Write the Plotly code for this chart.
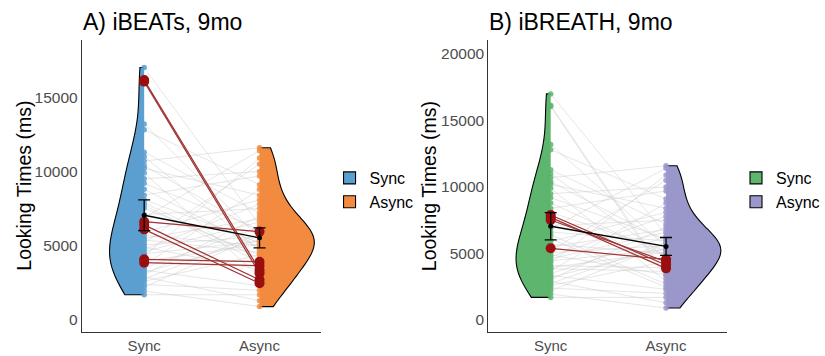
import plotly.graph_objects as go

# ---------------- data ----------------
conditions = ["Sync", "Async"]
sync_ms = [17000, 16150, 16050, 13200, 12800, 11300, 11000, 10700, 10400, 10200,
           9900, 9500, 9200, 8800, 8400, 8100, 7895, 7720, 7520, 7100,
           6900, 6615, 6400, 6100, 5900, 5700, 5500, 5390, 5200, 5050,
           4900, 4750, 4600, 4450, 4300, 4085, 3950, 3860, 3700, 3500,
           3350, 3200, 3050, 2900, 2750, 2600, 2400, 2200, 1950, 1700]
async_ms = [6400, 3365, 3140, 5500, 9100, 7200, 4700, 11600, 5900, 8400,
            2900, 10000, 6100, 4850, 9700, 5200, 4135, 3885, 4385, 7500,
            11400, 5950, 2700, 2470, 8100, 5000, 6800, 4560, 10500, 5600,
            3400, 7800, 6600, 5300, 10900, 3925, 5100, 3655, 8800, 6250,
            2300, 5400, 7000, 1300, 5800, 4400, 2000, 5700, 900, 1700]
highlight_A = [1, 2, 21, 22, 23, 35, 37]
highlight_B = [16, 17, 18, 27]
mean_ms = [7050, 5530]
se_ms = [1030, 675]
ticks_A = [0, 5000, 10000, 15000]
ticks_B = [0, 5000, 10000, 15000, 20000]
y_title = "Looking Times (ms)"

panels = [
    dict(title="A) iBEATs, 9mo", colors=["#5B9FD0", "#F28B3F"], hl=highlight_A,
         yticks=ticks_A, yrange=[-810, 18850]),
    dict(title="B) iBREATH, 9mo", colors=["#5DB56E", "#9A97CB"], hl=highlight_B,
         yticks=ticks_B, yrange=[-900, 21050]),
]

W, H = 825, 356
xdom = [[83 / W, 325 / W], [495 / W, 737 / W]]
ydom = [1 - 332 / H, 1 - 40 / H]
ytitle_x = [24 / W, 435 / W]

fig = go.Figure()
for p, panel in enumerate(panels):
    xa = "x" if p == 0 else "x2"
    ya = "y" if p == 0 else "y2"
    lg = "legend" if p == 0 else "legend2"
    c_sync, c_async = panel["colors"]
    # violins
    for i, (vals, col, side, wd) in enumerate([(sync_ms, c_sync, "negative", 0.6),
                                                (async_ms, c_async, "positive", 0.95)]):
        fig.add_trace(go.Violin(
            x=[i] * len(vals), y=vals, name=conditions[i], side=side,
            fillcolor=col, line=dict(color="black", width=1.1), opacity=1,
            points=False, spanmode="hard", width=wd, scalemode="width",
            box_visible=False, meanline_visible=False, hoverinfo="skip",
            xaxis=xa, yaxis=ya, legend=lg, showlegend=True))
    # gray paired lines
    lx, ly = [], []
    for s, a in zip(sync_ms, async_ms):
        lx += [0, 1, None]
        ly += [s, a, None]
    fig.add_trace(go.Scatter(x=lx, y=ly, mode="lines",
                             line=dict(color="rgba(205,205,205,0.5)", width=1),
                             xaxis=xa, yaxis=ya, showlegend=False, hoverinfo="skip"))
    # individual points
    fig.add_trace(go.Scatter(x=[0] * len(sync_ms), y=sync_ms, mode="markers",
                             marker=dict(color=c_sync, size=5.5, opacity=0.85),
                             xaxis=xa, yaxis=ya, showlegend=False))
    fig.add_trace(go.Scatter(x=[1] * len(async_ms), y=async_ms, mode="markers",
                             marker=dict(color=c_async, size=5.5, opacity=0.85),
                             xaxis=xa, yaxis=ya, showlegend=False))
    # highlighted subjects
    rx, ry = [], []
    for k in panel["hl"]:
        rx += [0, 1, None]
        ry += [sync_ms[k], async_ms[k], None]
    fig.add_trace(go.Scatter(x=rx, y=ry, mode="lines",
                             line=dict(color="#A23434", width=1.2),
                             xaxis=xa, yaxis=ya, showlegend=False))
    fig.add_trace(go.Scatter(x=[0] * len(panel["hl"]) + [1] * len(panel["hl"]),
                             y=[sync_ms[k] for k in panel["hl"]] + [async_ms[k] for k in panel["hl"]],
                             mode="markers", marker=dict(color="#990F0F", size=10),
                             xaxis=xa, yaxis=ya, showlegend=False))
    # mean +- se
    fig.add_trace(go.Scatter(x=[0, 1], y=mean_ms, mode="lines+markers",
                             line=dict(color="black", width=1.3),
                             marker=dict(color="black", size=5),
                             error_y=dict(type="data", array=se_ms, color="black",
                                          thickness=1.3, width=6),
                             xaxis=xa, yaxis=ya, showlegend=False))

    fig.add_annotation(text=panel["title"], xref="paper", yref="paper",
                       x=xdom[p][0] - 1 / W, y=1 - 22 / H, xanchor="left", yanchor="middle",
                       showarrow=False, font=dict(size=23, color="black"))
    fig.add_annotation(text=y_title, xref="paper", yref="paper",
                       x=ytitle_x[p], y=1 - 186 / H, xanchor="center", yanchor="middle",
                       textangle=-90, showarrow=False,
                       font=dict(size=19.5, color="black"))

axis_common_x = dict(tickmode="array", tickvals=[0, 1], ticktext=conditions,
                     range=[-0.54, 1.53], showgrid=False, zeroline=False,
                     showline=True, linecolor="#333333", linewidth=1.2,
                     ticks="", tickfont=dict(size=15, color="#4D4D4D"))
axis_common_y = dict(showgrid=False, zeroline=False, showline=True,
                     linecolor="#333333", linewidth=1.2, ticks="",
                     tickfont=dict(size=15.5, color="#4D4D4D"))

fig.update_layout(
    width=W, height=H, margin=dict(l=0, r=0, t=0, b=0),
    plot_bgcolor="white", paper_bgcolor="white",
    font=dict(family="Liberation Sans, Arial, sans-serif"),
    violinmode="overlay", violingap=0, violingroupgap=0,
    xaxis=dict(domain=xdom[0], anchor="y", **axis_common_x),
    xaxis2=dict(domain=xdom[1], anchor="y2", **axis_common_x),
    yaxis=dict(domain=ydom, anchor="x", range=panels[0]["yrange"],
               tickvals=ticks_A, ticktext=[str(t) for t in ticks_A], **axis_common_y),
    yaxis2=dict(domain=ydom, anchor="x2", range=panels[1]["yrange"],
                tickvals=ticks_B, ticktext=[str(t) for t in ticks_B], **axis_common_y),
    legend=dict(x=334 / W, y=1 - 190 / H, xanchor="left", yanchor="middle",
                font=dict(size=16, color="black"), bgcolor="rgba(0,0,0,0)",
                itemwidth=30, tracegroupgap=0),
    legend2=dict(x=746 / W, y=1 - 190 / H, xanchor="left", yanchor="middle",
                 font=dict(size=16, color="black"), bgcolor="rgba(0,0,0,0)",
                 itemwidth=30, tracegroupgap=0),
)

fig.write_html("out.html")
